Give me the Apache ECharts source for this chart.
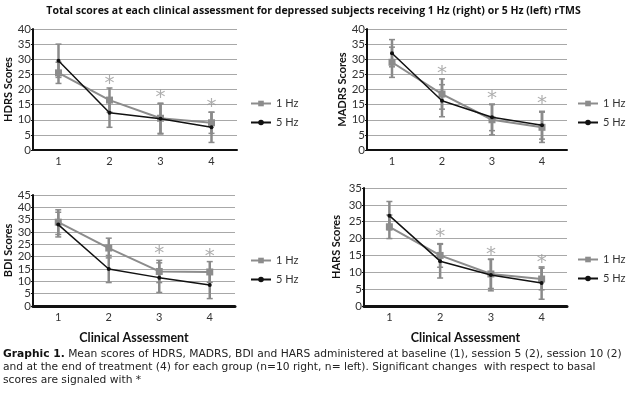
<!DOCTYPE html>
<html>
<head>
<meta charset="utf-8">
<script src="https://cdn.jsdelivr.net/npm/echarts@6/dist/echarts.min.js"></script>
<style>
html,body{margin:0;padding:0;background:#fff;}
#chart{width:627px;height:393px;}
</style>
</head>
<body>
<div id="chart"></div>
<script>
var categories = ['1', '2', '3', '4'];
var panelNames = ['HDRS Scores', 'MADRS Scores', 'BDI Scores', 'HARS Scores'];
var yMax = [40, 40, 45, 35];
// mean scores
var hdrs1 = [25.5, 16.5, 10.5, 9];
var hdrs5 = [29.5, 12.3, 10.3, 7.5];
var madrs1 = [29, 18.5, 10, 7.5];
var madrs5 = [32, 16.3, 10.8, 8.2];
var bdi1 = [34, 23.5, 14, 13.8];
var bdi5 = [33, 15, 11.5, 8.5];
var hars1 = [23.5, 15, 9.5, 8];
var hars5 = [26.8, 13.3, 9.2, 6.8];
// error bars (sd)
var hdrsErr1 = [3.5, 4, 5, 3.5];
var hdrsErr5 = [5.5, 4.8, 5, 5];
var madrsErr1 = [5, 5, 5, 5];
var madrsErr5 = [4.5, 5.3, 4.4, 4.6];
var bdiErr1 = [5, 4, 4.5, 4.2];
var bdiErr5 = [5, 5.5, 6, 5.5];
var harsErr1 = [3.5, 3.5, 4.3, 3.2];
var harsErr5 = [4.2, 5, 4.7, 4.8];
// significance marks (* position)
var hdrsStar = [null, 23.5, 18.8, 16];
var madrsStar = [null, 26.8, 18.5, 16.8];
var bdiStar = [null, null, 23, 22];
var harsStar = [null, 22, 16.6, 14.2];

var means1 = [hdrs1, madrs1, bdi1, hars1];
var means5 = [hdrs5, madrs5, bdi5, hars5];
var errs1 = [hdrsErr1, madrsErr1, bdiErr1, harsErr1];
var errs5 = [hdrsErr5, madrsErr5, bdiErr5, harsErr5];
var stars = [hdrsStar, madrsStar, bdiStar, harsStar];

var font = 'Lato';
var grids = [
	{left: 33, top: 29, width: 204, height: 121},
	{left: 367, top: 29, width: 200, height: 121},
	{left: 33, top: 195, width: 202, height: 111},
	{left: 364, top: 188, width: 203, height: 118}
];
var legendPos = [
	{left: 250, top: 98},
	{left: 577, top: 98},
	{left: 250, top: 255},
	{left: 577, top: 254}
];
var nameGaps = [19, 19, 19, 22];

function errData(means, errs){
	var out = [];
	means.forEach(function(m, i){
		out.push([i, m - errs[i], m + errs[i]]);
	});
	return out;
}
function renderErr(params, api){
	var x = api.value(0);
	var lo = api.coord([x, api.value(1)]);
	var hi = api.coord([x, api.value(2)]);
	var cap = 3;
	return {
		type: 'group',
		children: [
			{type: 'line', shape: {x1: lo[0], y1: lo[1], x2: hi[0], y2: hi[1]}, style: {stroke: '#8a8a8a', lineWidth: 2.5}},
			{type: 'line', shape: {x1: lo[0] - cap, y1: lo[1], x2: lo[0] + cap, y2: lo[1]}, style: {stroke: '#8a8a8a', lineWidth: 1.5}},
			{type: 'line', shape: {x1: hi[0] - cap, y1: hi[1], x2: hi[0] + cap, y2: hi[1]}, style: {stroke: '#8a8a8a', lineWidth: 1.5}}
		]
	};
}

var xAxes = [], yAxes = [], series = [], legends = [];
for (var i = 0; i < 4; i++) {
	xAxes.push({
		type: 'category',
		gridIndex: i,
		data: categories,
		boundaryGap: true,
		axisLine: {lineStyle: {color: '#111', width: i < 2 ? 2 : 3}},
		axisTick: {show: false},
		axisLabel: {color: '#333', fontFamily: font, fontSize: 11, margin: 6},
		name: i >= 2 ? 'Clinical Assessment' : '',
		nameLocation: 'middle',
		nameGap: 25,
		nameTextStyle: {color: '#111', fontFamily: font, fontWeight: 'bold', fontSize: 12.5}
	});
	yAxes.push({
		type: 'value',
		gridIndex: i,
		min: 0,
		max: yMax[i],
		interval: 5,
		axisLine: {show: true, lineStyle: {color: '#111', width: 2}},
		axisTick: {show: true, length: 2, lineStyle: {color: '#111'}},
		axisLabel: {color: '#333', fontFamily: font, fontSize: 11.5, margin: 2},
		splitLine: {lineStyle: {color: '#a8a8a8', width: 1}},
		name: panelNames[i],
		nameLocation: 'middle',
		nameGap: nameGaps[i],
		nameTextStyle: {color: '#111', fontFamily: font, fontWeight: 'bold', fontSize: 11}
	});
	series.push({
		type: 'custom', xAxisIndex: i, yAxisIndex: i, z: 1,
		renderItem: renderErr, data: errData(means1[i], errs1[i])
	});
	series.push({
		type: 'custom', xAxisIndex: i, yAxisIndex: i, z: 1,
		renderItem: renderErr, data: errData(means5[i], errs5[i])
	});
	series.push({
		name: '1 Hz', type: 'line', xAxisIndex: i, yAxisIndex: i, z: 3,
		data: means1[i], symbol: 'rect', symbolSize: 7,
		itemStyle: {color: '#8c8c8c'}, lineStyle: {color: '#8c8c8c', width: 2}
	});
	series.push({
		name: '5 Hz', type: 'line', xAxisIndex: i, yAxisIndex: i, z: 4,
		data: means5[i], symbol: 'circle', symbolSize: 4,
		itemStyle: {color: '#111'}, lineStyle: {color: '#111', width: 1.5}
	});
	series.push({
		type: 'scatter', xAxisIndex: i, yAxisIndex: i, z: 5,
		data: stars[i], symbolSize: 0, silent: true,
		label: {show: true, position: 'inside', offset: [0, 5], formatter: '*', color: '#9a9a9a', fontFamily: 'DejaVu Sans', fontSize: 20}
	});
	legends.push({
		left: legendPos[i].left, top: legendPos[i].top, padding: 0,
		orient: 'vertical', itemGap: 8, itemWidth: 20, itemHeight: 7,
		data: ['1 Hz', '5 Hz'],
		textStyle: {color: '#333', fontFamily: font, fontSize: 11}
	});
}

var chart = echarts.init(document.getElementById('chart'));
chart.setOption({
	animation: false,
	backgroundColor: '#fff',
	title: {
		text: 'Total scores at each clinical assessment for depressed subjects receiving 1 Hz (right) or 5 Hz (left) rTMS',
		left: 'center', top: 1,
		textStyle: {fontFamily: 'Open Sans', fontWeight: 'bold', fontSize: 10.5, color: '#111'}
	},
	grid: grids,
	xAxis: xAxes,
	yAxis: yAxes,
	legend: legends,
	series: series,
	graphic: [
		{type: 'text', left: 3, top: 349, style: {
			text: '{b|Graphic 1.} Mean scores of HDRS, MADRS, BDI and HARS administered at baseline (1), session 5 (2), session 10 (2)',
			font: '10.7px "DejaVu Sans"', fill: '#222',
			rich: {b: {fontFamily: 'DejaVu Sans', fontWeight: 'bold', fontSize: 10.7, fill: '#111'}}
		}},
		{type: 'text', left: 3, top: 362, style: {
			text: 'and at the end of treatment (4) for each group (n=10 right, n= left). Significant changes  with respect to basal',
			font: '10.7px "DejaVu Sans"', fill: '#222'
		}},
		{type: 'text', left: 3, top: 375, style: {
			text: 'scores are signaled with *',
			font: '10.7px "DejaVu Sans"', fill: '#222'
		}}
	]
});
</script>
</body>
</html>
